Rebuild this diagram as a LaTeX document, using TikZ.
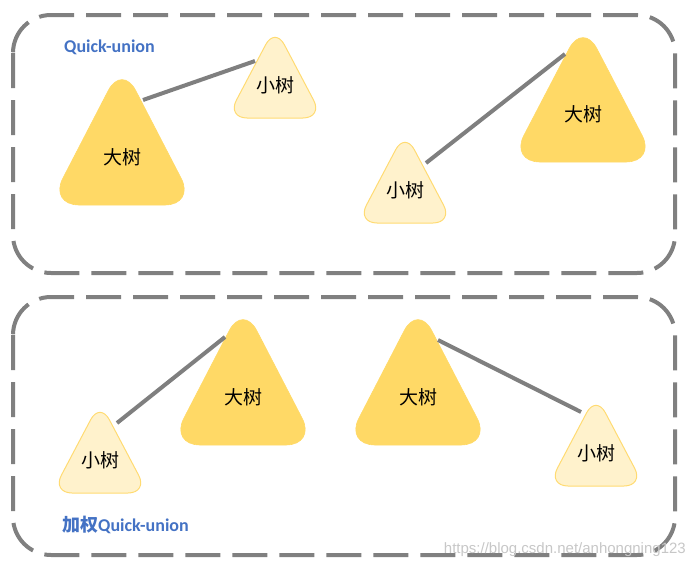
\documentclass[tikz,border=0pt]{standalone}
\usepackage{fontspec}
\setmainfont{Carlito}
\newfontfamily\cjk{Noto Sans CJK SC}
\newfontfamily\lab{Carlito}
\newfontfamily\wm{Liberation Sans}
\definecolor{bigfill}{HTML}{FFD966}
\definecolor{smallfill}{HTML}{FFF2CC}
\definecolor{smalledge}{HTML}{FFDB72}
\definecolor{linkgray}{HTML}{7F7F7F}
\definecolor{framegray}{HTML}{808080}
\definecolor{labblue}{HTML}{4472C4}
\tikzset{
  bigtree/.style={fill=bigfill, draw=bigfill, line width=0.6pt, rounded corners=30pt},
  smalltree/.style={fill=smallfill, draw=smalledge, line width=1pt, rounded corners=20pt},
  treetext/.style={font=\cjk\fontsize{19}{19}\selectfont, text=black, inner sep=0pt},
  link/.style={draw=linkgray, line width=4pt},
  frame/.style={draw=framegray, line width=4pt, dash pattern=on 35pt off 12pt, rounded corners=38pt},
  title/.style={text=labblue, anchor=west, inner sep=0pt, font=\fontsize{18}{18}\selectfont\bfseries}
}
% #1 name, #2 cx, #3 visible apex y, #4 bottom y, #5 text
\newcommand\bigtri[5]{%
  \path[bigtree] (#2,{#3-16}) -- ({#2+73},#4) -- ({#2-73},#4) -- cycle;
  \node[treetext] (#1) at (#2,{#4-48}) {#5};}
\newcommand\smalltri[5]{%
  \path[smalltree] (#2,{#3-11}) -- ({#2+48},#4) -- ({#2-48},#4) -- cycle;
  \node[treetext] (#1) at (#2,{#4-33}) {#5};}
\begin{document}
\begin{tikzpicture}[x=1pt,y=-1pt]
\useasboundingbox (0,0) rectangle (691,570);
% frames
\draw[frame] (13,15) rectangle (675,273);
\draw[frame] (13,297) rectangle (675,555);
% titles
\node[title] (t1) at (64,47) {\lab Quick-union};
\node[title] (t2) at (62,525) {{\cjk 加权}\lab Quick-union};
% top
\bigtri{A}{122}{80}{205}{大树}
\smalltri{a}{275}{38}{118}{小树}
\bigtri{B}{583}{38}{162}{大树}
\smalltri{b}{405}{143}{223}{小树}
% bottom
\bigtri{C}{243}{320}{445}{大树}
\smalltri{c}{100}{413}{493}{小树}
\bigtri{D}{418}{320}{445}{大树}
\smalltri{d}{596}{406}{486}{小树}
% connector ends
\coordinate (A1) at (143,100); \coordinate (a1) at (255,61);
\coordinate (b1) at (426,163); \coordinate (B1) at (565,54);
\coordinate (c1) at (117,423); \coordinate (C1) at (225,337);
\coordinate (D1) at (438,340); \coordinate (d1) at (581,412);
\draw[link] (A1) -- (a1);
\draw[link] (b1) -- (B1);
\draw[link] (c1) -- (C1);
\draw[link] (D1) -- (d1);
% watermark
\node[anchor=east, inner sep=0pt, text=black!22, font=\wm\fontsize{15}{15}\selectfont] (wm) at (686,550) {https://blog.csdn.net/anhongning123};
\end{tikzpicture}
\end{document}
